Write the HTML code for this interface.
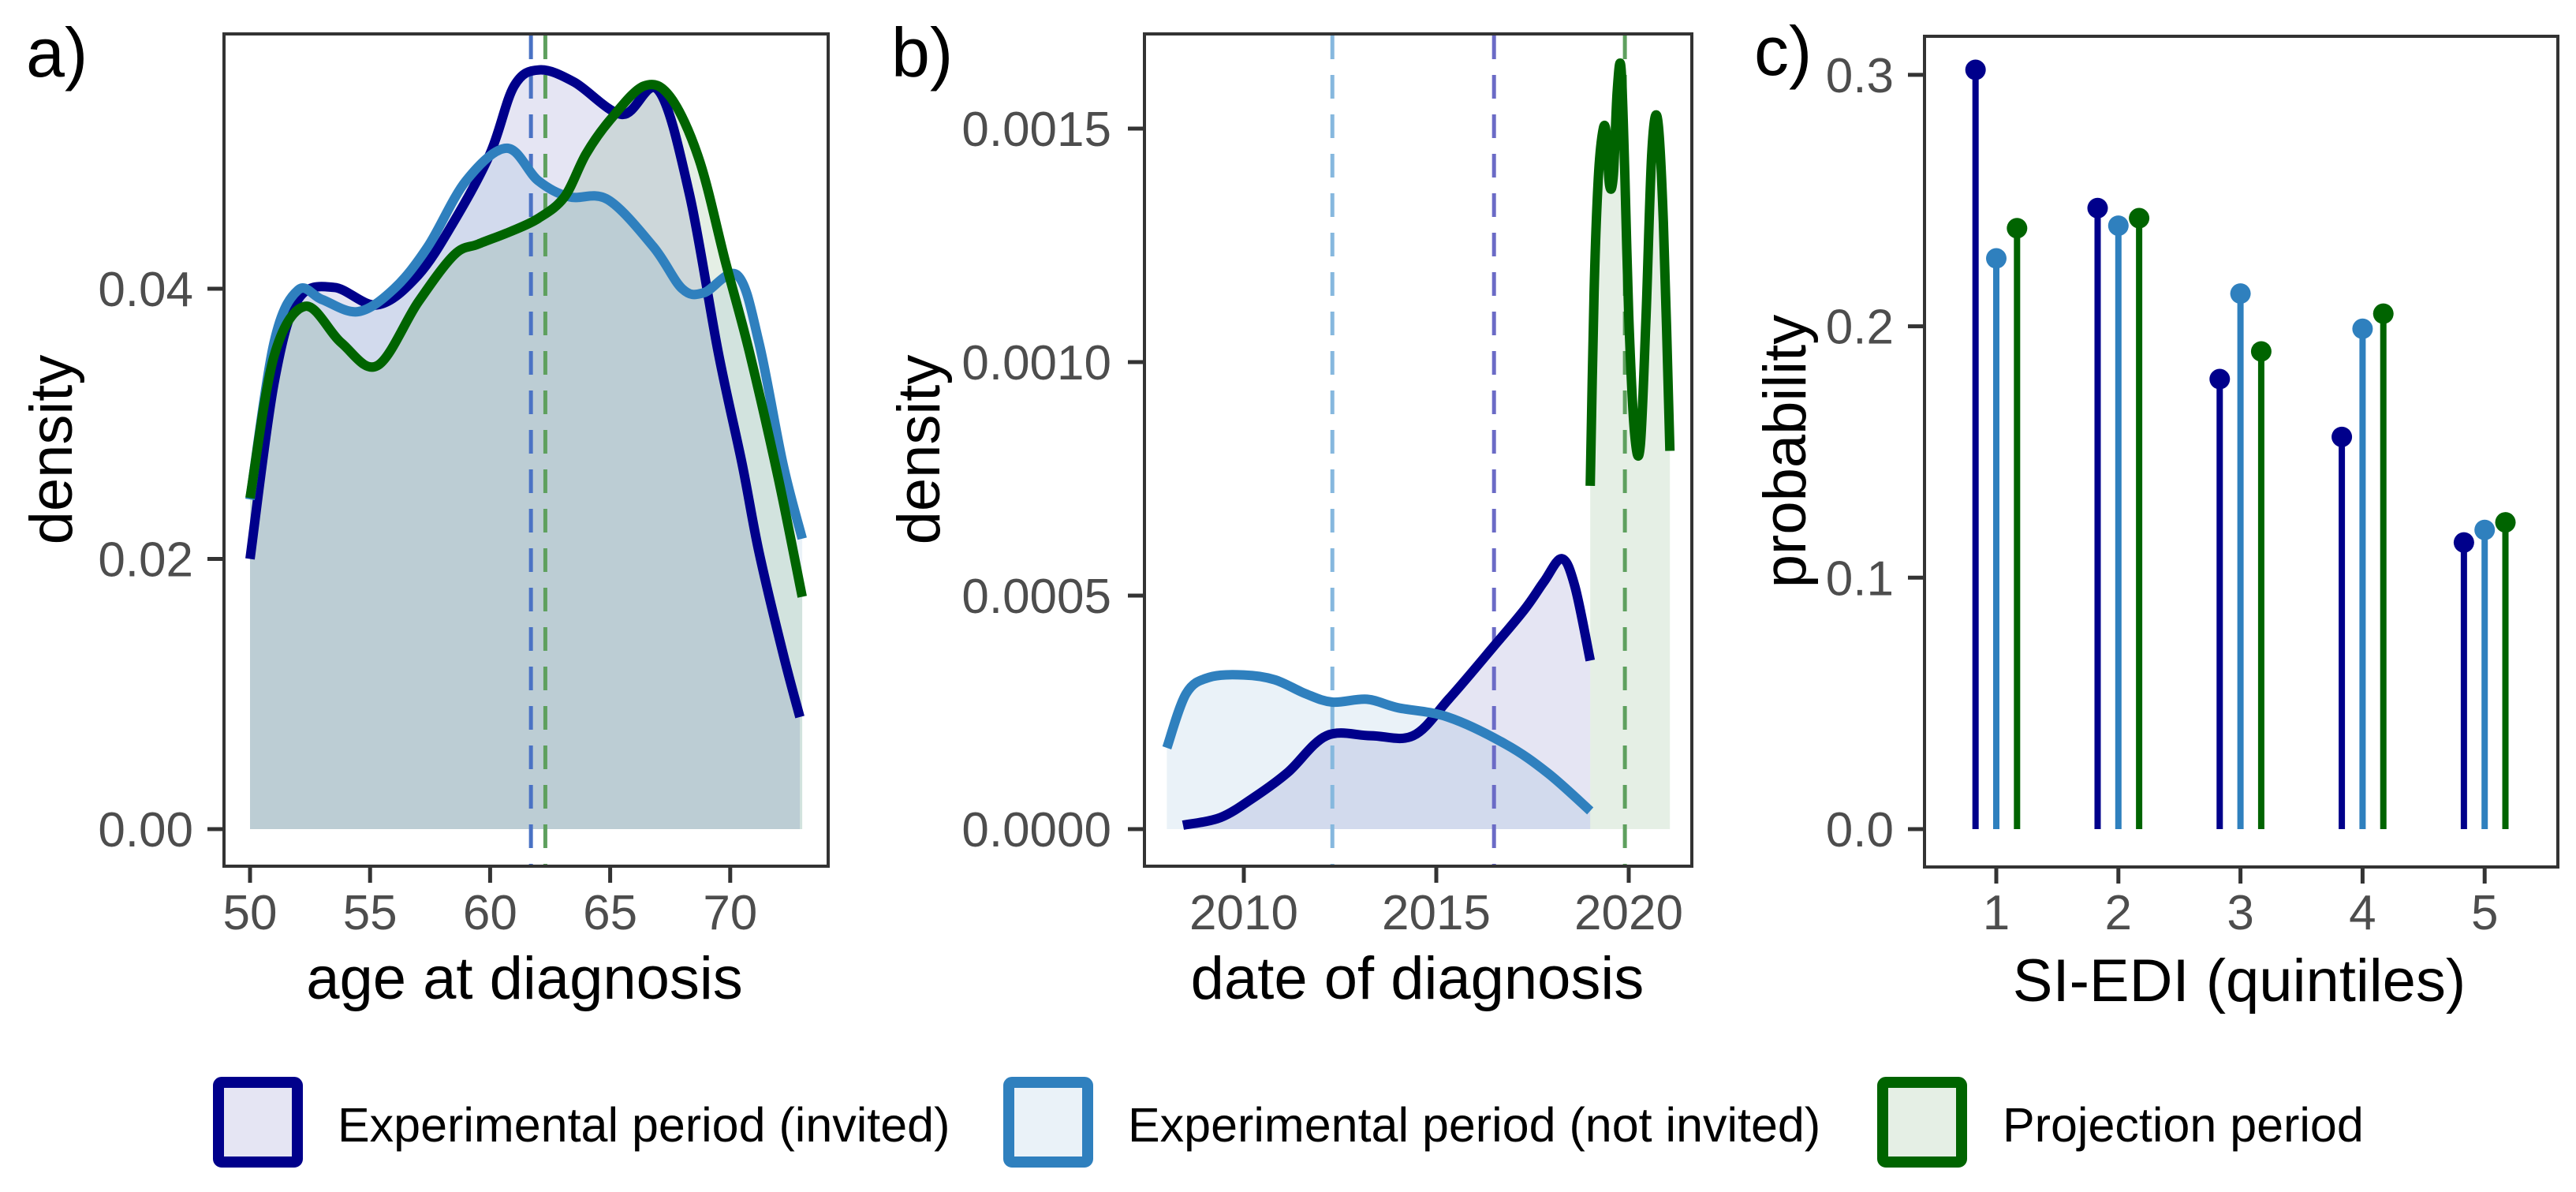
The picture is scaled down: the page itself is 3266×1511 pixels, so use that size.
<!DOCTYPE html>
<html><head><meta charset="utf-8"><style>
html,body{margin:0;padding:0;background:#fff;}
svg{display:block;font-family:"Liberation Sans",Arial,sans-serif;}
.tick{font-size:62px;fill:#4d4d4d;}
.title{font-size:76px;fill:#000;}
.plab{font-size:88px;fill:#000;}
.leg{font-size:61px;fill:#000;}
</style></head><body>
<svg id="chart" width="3266" height="1511" viewBox="0 0 3266 1511" xmlns="http://www.w3.org/2000/svg">
<rect width="3266" height="1511" fill="#fff"/>
</svg>
<script>
// ---- Panel a data (age at diagnosis density)
const ageInvitedX = [50,51,52,53.5,55.3,57,58.5,60,61,62.05,63.5,65.5,67,68.3,69.5,70.5,71.2,72.2,72.9];
const ageInvitedY = [0.020,0.033,0.0392,0.0401,0.0388,0.041,0.045,0.050,0.055,0.0562,0.0553,0.0529,0.0547,0.047,0.0353,0.027,0.0205,0.013,0.0083];
const ageNotInvX = [50,51,52,53,54.5,56,57.4,59,60.7,62,63.3,64.9,66.8,68,68.9,70.3,71.2,72.2,73];
const ageNotInvY = [0.0244,0.036,0.0399,0.0392,0.0383,0.040,0.0431,0.048,0.0504,0.048,0.0468,0.0466,0.0431,0.040,0.0397,0.0410,0.036,0.027,0.0215];
const ageProjX = [50,51,52.3,53.8,55.3,57,58.5,59.5,60.8,62,63.1,64,65,66.4,67.5,68.7,69.8,70.8,72,73];
const ageProjY = [0.0245,0.035,0.0387,0.036,0.0343,0.039,0.0425,0.0433,0.0442,0.0452,0.0468,0.050,0.0525,0.055,0.0542,0.0496,0.042,0.0353,0.026,0.0172];
const ageMeans = [61.7, 62.3];
const ageXTicks = [50,55,60,65,70];
const ageYTicks = [0.00,0.02,0.04];
const ageYLabels = ["0.00","0.02","0.04"];

// ---- Panel b data (date of diagnosis density)
const dateInvitedX = [2008.42,2009.4,2010.3,2011.15,2012.15,2013.3,2014.4,2015.33,2016.5,2017.3,2017.8,2018.26,2018.6,2019.0];
const dateInvitedY = [0.0000085,0.000025,0.00007,0.000122,0.0002,0.0002,0.0002,0.000279,0.000392,0.000471,0.00053,0.000579,0.00052,0.000361];
const dateNotInvX = [2008.0,2008.5,2009.1,2010.0,2010.8,2011.6,2012.3,2013.2,2014.0,2015.3,2016.8,2017.9,2019.0];
const dateNotInvY = [0.000174,0.00029,0.000325,0.00033,0.00032,0.00029,0.000272,0.000278,0.00026,0.00024,0.000182,0.00012,0.000039];
const dateProjX = [2019.0,2019.1,2019.2,2019.3,2019.4,2019.5,2019.6,2019.7,2019.8,2019.9,2020.0,2020.15,2020.3,2020.45,2020.6,2020.75,2020.9,2021.07];
const dateProjY = [0.000735,0.00115,0.00138,0.00148,0.0015,0.00138,0.0014,0.00158,0.00163,0.0014,0.0011,0.00085,0.00082,0.0011,0.00145,0.00152,0.0013,0.00081];
const dateMeans = [2012.3, 2016.5, 2019.9];
const dateXTicks = [2010,2015,2020];
const dateYTicks = [0,0.0005,0.0010,0.0015];
const dateYLabels = ["0.0000","0.0005","0.0010","0.0015"];

// ---- Panel c data (SI-EDI quintile probabilities)
const quintiles = [1,2,3,4,5];
const probInvited = [0.302,0.247,0.179,0.156,0.114];
const probNotInvited = [0.227,0.240,0.213,0.199,0.119];
const probProjection = [0.239,0.243,0.190,0.205,0.122];
const probYTicks = [0,0.1,0.2,0.3];
const probYLabels = ["0.0","0.1","0.2","0.3"];

const NS = "http://www.w3.org/2000/svg";
const svg = document.getElementById('chart');
const NAVY="#00008b", LBLUE="#2f80be", GREEN="#006400";
function mk(tag, attrs, parent){const e=document.createElementNS(NS,tag);for(const k in attrs)e.setAttribute(k,attrs[k]);(parent||svg).appendChild(e);return e;}

function smooth(pts){
  let d="M"+pts[0][0].toFixed(1)+","+pts[0][1].toFixed(1);
  for(let i=0;i<pts.length-1;i++){
    const p0=pts[i-1]||pts[i],p1=pts[i],p2=pts[i+1],p3=pts[i+2]||p2;
    const c1=[p1[0]+(p2[0]-p0[0])/6,p1[1]+(p2[1]-p0[1])/6];
    const c2=[p2[0]-(p3[0]-p1[0])/6,p2[1]-(p3[1]-p1[1])/6];
    d+=" C"+c1[0].toFixed(1)+","+c1[1].toFixed(1)+" "+c2[0].toFixed(1)+","+c2[1].toFixed(1)+" "+p2[0].toFixed(1)+","+p2[1].toFixed(1);
  }
  return d;
}

function panel(cfg){
  const g=mk('g',{});
  
  
  return g;
}
function frame(g,x0,y0,x1,y1){
  const r=mk('rect',{x:x0,y:y0,width:x1-x0,height:y1-y0,fill:'none',stroke:'#333',"stroke-width":4},g);
  
  
}
function yAxis(g,ticks,labels,sy,xLeft,labelRight){
  ticks.forEach((t,i)=>{
    const y=sy(t);
    const l=mk('line',{x1:xLeft-19,x2:xLeft,y1:y,y2:y,stroke:'#333',"stroke-width":5},g);
    
    
    const tx=mk('text',{x:labelRight,y:y+22,"text-anchor":"end",class:"tick"},g);
    tx.textContent=labels[i];
    
    
  });
}
function xAxis(g,ticks,labels,sx,yBottom){
  ticks.forEach((t,i)=>{
    const x=sx(t);
    const l=mk('line',{x1:x,x2:x,y1:yBottom,y2:yBottom+19,stroke:'#333',"stroke-width":5},g);
    
    
    const tx=mk('text',{x:x,y:1178,"text-anchor":"middle",class:"tick"},g);
    tx.textContent=labels[i];
    
    
  });
}
function label(g,txt,x,y,cls,name,rot){
  const t=mk('text',{x:x,y:y,class:cls,"text-anchor":rot||cls==='title'?"middle":"start"},g);
  if(rot)t.setAttribute('transform','rotate(-90 '+x+' '+y+')');
  t.textContent=txt;
  
  
}
function density(g,xs,ys,sx,sy,color,name,fillAlpha,yZero){
  const pts=xs.map((x,i)=>[sx(x),sy(ys[i])]);
  const line=smooth(pts);
  const f=mk('path',{d:line+" L"+pts[pts.length-1][0]+","+yZero+" L"+pts[0][0]+","+yZero+" Z",fill:color,"fill-opacity":fillAlpha,stroke:'none'},g);
  
  
  return line;
}
function drawLine(g,d,color,name){
  const p=mk('path',{d:d,fill:'none',stroke:color,"stroke-width":12,"stroke-linejoin":"round"},g);
  
  
}
function vline(g,x,y0,y1,color,name){
  const l=mk('line',{x1:x,x2:x,y1:y0,y2:y1,stroke:color,"stroke-width":5,"stroke-dasharray":"30 20"},g);
  
  
}

// ===== Panel a
(function(){
  const g=panel({name:'panel-a-age'});
  const sx=v=>317+(v-50)*30.44, sy=v=>1051-v*17125;
  const top=45, bot=1098;
  const l1=density(g,ageInvitedX,ageInvitedY,sx,sy,NAVY,'age-invited',0.1,sy(0));
  const l2=density(g,ageNotInvX,ageNotInvY,sx,sy,LBLUE,'age-not-invited',0.1,sy(0));
  const l3=density(g,ageProjX,ageProjY,sx,sy,GREEN,'age-projection',0.1,sy(0));
  vline(g,sx(ageMeans[0]),top,bot,'#4a72c4','age-mean-experimental');
  vline(g,sx(ageMeans[1]),top,bot,'#5ea05e','age-mean-projection');
  drawLine(g,l1,NAVY,'age-invited');
  drawLine(g,l2,LBLUE,'age-not-invited');
  drawLine(g,l3,GREEN,'age-projection');
  frame(g,284,43,1050,1098);
  yAxis(g,ageYTicks,ageYLabels,sy,282,245);
  xAxis(g,ageXTicks,ageXTicks.map(String),sx,1100);
  label(g,'age at diagnosis',665,1266,'title','x-axis-title');
  label(g,'density',91,570,'title','y-axis-title',true);
  label(g,'a)',33,97,'plab','panel-label-a');
})();

// ===== Panel b
(function(){
  const g=panel({name:'panel-b-date'});
  const sx=v=>1577+(v-2010)*48.8, sy=v=>1051-v*592000;
  const top=45, bot=1098;
  const l1=density(g,dateInvitedX,dateInvitedY,sx,sy,NAVY,'date-invited',0.1,sy(0));
  const l2=density(g,dateNotInvX,dateNotInvY,sx,sy,LBLUE,'date-not-invited',0.1,sy(0));
  const l3=density(g,dateProjX,dateProjY,sx,sy,GREEN,'date-projection',0.1,sy(0));
  vline(g,sx(dateMeans[0]),top,bot,'#86b8de','date-mean-not-invited');
  vline(g,sx(dateMeans[1]),top,bot,'#6b6bc6','date-mean-invited');
  vline(g,sx(dateMeans[2]),top,bot,'#5ea05e','date-mean-projection');
  drawLine(g,l1,NAVY,'date-invited');
  drawLine(g,l2,LBLUE,'date-not-invited');
  drawLine(g,l3,GREEN,'date-projection');
  frame(g,1451,43,2145,1098);
  yAxis(g,dateYTicks,dateYLabels,sy,1449,1409);
  xAxis(g,dateXTicks,dateXTicks.map(String),sx,1100);
  label(g,'date of diagnosis',1797,1266,'title','x-axis-title');
  label(g,'density',1191,570,'title','y-axis-title',true);
  label(g,'b)',1130,97,'plab','panel-label-b');
})();

// ===== Panel c
(function(){
  const g=panel({name:'panel-c-siedi'});
  const sx=v=>2531+(v-1)*154.8, sy=v=>1051-v*3187;
  const series=[[probInvited,NAVY,-0.17,'invited'],[probNotInvited,LBLUE,0,'not-invited'],[probProjection,GREEN,0.17,'projection']];
  series.forEach(s=>{
    quintiles.forEach((q,i)=>{
      const x=sx(q+s[2]);
      const l=mk('line',{x1:x,x2:x,y1:sy(0),y2:sy(s[0][i]),stroke:s[1],"stroke-width":8},g);
      
      
      const c=mk('circle',{cx:x,cy:sy(s[0][i]),r:13,fill:s[1]},g);
      
      
    });
  });
  frame(g,2440,46,3243,1099);
  yAxis(g,probYTicks,probYLabels,sy,2438,2401);
  xAxis(g,quintiles,quintiles.map(String),sx,1101);
  label(g,'SI-EDI (quintiles)',2839,1269,'title','x-axis-title');
  label(g,'probability',2289,572,'title','y-axis-title',true);
  label(g,'c)',2224,95,'plab','panel-label-c');
})();

// ===== Legend
(function(){
  const g=panel({name:'legend'});
  const items=[[270,428,NAVY,'Experimental period (invited)','legend-entry-invited'],
               [1272,1430,LBLUE,'Experimental period (not invited)','legend-entry-not-invited'],
               [2380,2539,GREEN,'Projection period','legend-entry-projection']];
  items.forEach(it=>{
    const bg=mk('rect',{x:it[0]+7,y:1372,width:100,height:101,fill:'#fff'},g);
    
    
    const r=mk('rect',{x:it[0]+7,y:1372,width:100,height:101,rx:4,fill:it[2],"fill-opacity":0.1,stroke:it[2],"stroke-width":14},g);
    
    
    const t=mk('text',{x:it[1],y:1447,class:'leg'},g);
    t.textContent=it[3];
    
    
  });
})();
</script>
</body></html>
